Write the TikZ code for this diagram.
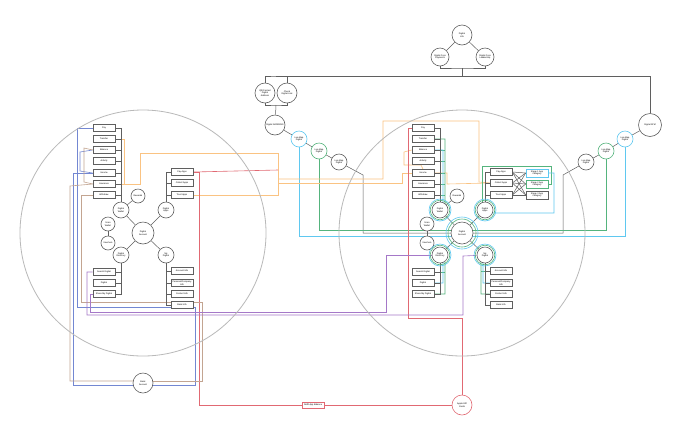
\documentclass[tikz,border=0pt]{standalone}
\usepackage{fontspec}
\setmainfont{Liberation Sans}
\usetikzlibrary{backgrounds}
\definecolor{cyn}{RGB}{95,200,240}
\definecolor{grn}{RGB}{85,180,125}
\definecolor{org}{RGB}{250,195,130}
\definecolor{rd}{RGB}{225,105,115}
\definecolor{bluev}{RGB}{115,135,210}
\definecolor{tanc}{RGB}{195,165,145}
\definecolor{prp}{RGB}{165,120,200}
\definecolor{ink}{RGB}{95,95,95}
\tikzset{
 tx/.style={font=\fontsize{2.2}{2.6}\selectfont, align=center},
 circ/.style={circle, draw=ink, line width=0.6pt, fill=white, inner sep=0pt, tx},
 csm/.style={circ, minimum size=14pt},
 cmd/.style={circ, minimum size=16pt},
 clg/.style={circ, minimum size=20pt},
 cxl/.style={circ, minimum size=22pt},
 bx/.style={rectangle, draw=ink, line width=0.6pt, fill=white, minimum width=22pt, minimum height=7pt, inner sep=0pt, tx},
 ln/.style={draw=ink, line width=0.5pt},
 cw/.style={line width=0.6pt}
}
\newcommand\mycluster[2]{%
\begin{scope}[xshift=#2pt]
\draw[gray!55, line width=0.8pt] (143,233) circle[radius=123pt];
\node[bx] (#1pay) at (104,128) {Pay};
\node[bx] (#1transfer) at (104,139) {Transfer};
\node[bx] (#1balance) at (104,150) {Balance};
\node[bx] (#1activity) at (104,161) {Activity};
\node[bx] (#1income) at (104,173) {Income};
\node[bx] (#1insurance) at (104,184) {Insurance};
\node[bx] (#1withdraw) at (104,195) {Withdraw};
\node[cmd] (#1wallet) at (121,210) {Digital\\Wallet};
\node[csm] (#1rew) at (138,196) {Rewards};
\node[csm] (#1scan) at (108,224) {Scan\\Wallet};
\node[csm] (#1vouch) at (108,243) {Vouchers};
\node[cxl] (#1acct) at (143,233) {Digital\\Account};
\node[cmd] (#1apps) at (166,210) {Digital\\Apps};
\node[cmd] (#1dir) at (121,255) {Digital\\Directory};
\node[cmd] (#1my) at (166,255) {My\\Digital};
\node[bx] (#1payapp) at (182,172) {Pay Apps};
\node[bx] (#1collapp) at (182,183) {Collect Apps};
\node[bx] (#1trustapp) at (182,195) {Trust Apps};
\node[bx] (#1search) at (104,272) {Search Digital};
\node[bx] (#1dig) at (104,283) {Digital};
\node[bx] (#1share) at (104,294) {Share My Digital};
\node[bx] (#1acc) at (182,271) {Account Info};
\node[bx] (#1per) at (182,283) {Personal/Company\\Info};
\node[bx] (#1con) at (182,294) {Contact Info};
\node[bx] (#1bank) at (182,305) {Bank Info};
\foreach \s in {wallet,apps,dir,my} {\draw[ln] (#1acct) -- (#1\s);}
\draw[ln] (#1wallet) -- (#1rew);
\draw[ln] (#1scan) -- (#1vouch);
\draw[ln] (#1pay.east) -| (#1wallet.north);
\foreach \b in {transfer,balance,activity,income,insurance,withdraw} {\draw[ln] (#1\b.east) -- (#1\b.east -| #1wallet.north);}
\draw[ln] (#1payapp.west) -| (#1apps.north);
\foreach \b in {collapp,trustapp} {\draw[ln] (#1\b.west) -- (#1\b.west -| #1apps.north);}
\draw[ln] (#1share.east) -| (#1dir.south);
\foreach \b in {search,dig} {\draw[ln] (#1\b.east) -- (#1\b.east -| #1dir.south);}
\draw[ln] (#1bank.west) -| (#1my.south);
\foreach \b in {acc,per,con} {\draw[ln] (#1\b.west) -- (#1\b.west -| #1my.south);}
\end{scope}}
\begin{document}
\begin{tikzpicture}[x=1pt,y=-1pt]
\useasboundingbox (0,0) rectangle (680,440);
\begin{scope}[on background layer]
\fill[white] (0,0) rectangle (680,440);
\end{scope}
\mycluster{L}{0}
\mycluster{R}{319}
% category boxes
\node[bx, draw=cyn, minimum height=8pt] (cat1) at (537,173) {Stage 1 App\\Category};
\node[bx, draw=grn, minimum height=8pt] (cat2) at (537,184) {Stage 2 App\\Category};
\node[bx, minimum height=8pt] (cat3) at (537,195) {Stage 3 App\\Category};
\foreach \a in {payapp,collapp,trustapp} {\foreach \c in {cat1,cat2,cat3} {\draw[ln] (R\a.east) -- (\c.west);}}
% top
\node[clg] (life) at (462,35) {Digital\\Life};
\node[circ, minimum size=18pt] (core1) at (440,57) {Digital Core\\Payments};
\node[circ, minimum size=18pt] (core2) at (485,57) {Digital Core\\Leadership};
\draw[ln] (life) -- (core1);
\draw[ln] (life) -- (core2);
\draw[ln] (core1.south) |- (462,68) -| (core2.south);
\coordinate (tl) at (276,76);
\coordinate (tr) at (650,76);
\draw[ln] (462,68) -- (462,76);
\draw[ln] (tl) -- (tr);
\node[clg] (qr) at (265,93) {QR/Contact\\Digital\\Address};
\node[clg] (chk) at (287,93) {Check\\Digital Link};
\draw[ln] (qr.north) |- (tl) -| (chk.north);
\node[clg] (addr) at (275,125) {Digital ADDRESS};
\draw[ln] (qr.south) |- (276,105) -| (chk.south);
\draw[ln] (276,105) -- (addr);
\node[cmd, draw=cyn] (lm1) at (299,139) {Live Map\\Digital};
\node[cmd, draw=grn] (lm2) at (319,151) {Live Map\\Digital};
\node[cmd] (lm3) at (339,162) {Live Map\\Digital};
\node[circ, minimum size=23pt] (atm) at (650,125) {Digital ATM};
\node[cmd, draw=cyn] (lm4) at (625,139) {Live Map\\Digital};
\node[cmd, draw=grn] (lm5) at (606,151) {Live Map\\Digital};
\node[cmd] (lm6) at (586,162) {Live Map\\Digital};
\draw[ln] (addr) -- (lm1);
\draw[ln] (lm1) -- (lm2);
\draw[ln] (lm2) -- (lm3);
\draw[ln] (tr) -- (atm);
\draw[ln] (atm) -- (lm4);
\draw[ln] (lm4) -- (lm5);
\draw[ln] (lm5) -- (lm6);
% bottom nodes
\node[clg] (bank) at (143,383) {Bank\\Account};
\node[bx, draw=rd, minimum height=6pt] (refill) at (313,405) {Refill App Balance};
\node[clg, draw=rd] (gift) at (462,405) {Apple Gift\\Cards};
% rings on right cluster
\draw[cyn, cw] (Racct) circle[radius=16pt];
\draw[grn, cw] (Racct) circle[radius=14pt];
\foreach \s in {wallet,apps,dir,my} {\draw[cyn, cw] (R\s) circle[radius=11pt]; \draw[grn, cw] (R\s) circle[radius=9.8pt];}
\begin{scope}[on background layer]
% long black connectors
\draw[ln] (lm3) -- (363,175) -- (363,233) -- (563,233) -- (563,175) -- (lm6);
\draw[cyn, cw] (lm1) -- (299,236) -- (625,236) -- (lm4);
\draw[grn, cw] (lm2) -- (319,230) -- (606,230) -- (lm5);
% orange
\draw[org, cw] (Ltransfer.east) -- (124,139) -- (124,184) -- (Linsurance.east);
\draw[org, cw] (Linsurance.east) -- (140,184) -- (140,153) -- (278,153) -- (278,195) -- (Ltrustapp.east);
\coordinate (oj1) at (278,179);
\coordinate (oj2) at (278,183);
\draw[org, cw] (oj1) -- (383,179) -- (383,121) -- (479,121) -- (479,182) -- (Rcollapp.west);
\draw[org, cw] (oj2) -- (402,183) -- (402,173) -- (Rincome.west);
\draw[org, cw] (Rincome.east) -- (447,173) -- (447,184) -- (Rcollapp.west);
\draw[org, cw] (Rbalance.west) -- (404,152) -- (404,165) -- (421,165) -- (Rincome.north);
% red
\coordinate (rj) at (278,170);
\draw[rd, cw] (Lpayapp.east) -- (rj);
\draw[rd, cw] (Lpayapp.east) -- (199,172) -- (199,405) -- (refill);
\draw[rd, cw] (refill) -- (gift);
\draw[rd, cw] (gift) -- (462,318) -- (408,318) -- (408,128) -- (Rpay.west);
% blue-violet
\draw[bluev, cw] (Lpay.west) -- (77,128) -- (77,307) -- (195,307) -- (195,385) -- (bank |- 0,385);
\draw[bluev, cw] (Lincome.west) -- (73,173) -- (73,385) -- (bank |- 0,385);
\draw[bluev, cw] (Lbalance.west) -- (80,152) -- (80,171) -- (Lincome.west);
% tan
\draw[tanc, cw] (Lbalance.west) -- (84,148) -- (84,182) -- (Linsurance.west);
\draw[tanc, cw] (Linsurance.west) -- (70,186) -- (70,381) -- (bank |- 0,381);
\draw[tanc, cw] (Lwithdraw.west) -- (81,195) -- (81,302) -- (202,302) -- (202,381) -- (bank |- 0,381);
% purple
\draw[prp, cw] (Lsearch.west) -- (87,272) -- (87,315) -- (463,315) -- (463,256) -- (Rmy);
\draw[prp, cw] (Lshare.west) -- (90,294) -- (90,312) -- (386,312) -- (386,255) -- (Rdir);
% right cluster green/cyan parallels
\draw[grn, cw] (Rapps) -- (482,210) -- (482,166) -- (551,166) -- (551,184) -- (cat2.east);
\draw[cyn, cw] (cat1.east) -- (554,173) -- (554,213) -- (490,213) -- (Rapps);
\draw[grn, cw] (Rtransfer.east) -- (445,139) -- (445,205) -- (Rwallet);
\foreach \b in {balance,activity,income,insurance,withdraw} {\draw[grn, cw] (R\b.east) -- (R\b.east -| 445,0);}
\draw[cyn, cw] (Rbalance.east) -- (443,150) -- (443,205) -- (Rwallet);
\draw[grn, cw] (Rdir) -- (445,262) -- (445,294) -- (Rshare.east);
\draw[grn, cw] (Rsearch.east) -- (Rsearch.east -| 445,0);
\draw[cyn, cw] (Rdir) -- (443,262) -- (443,283) -- (Rdig.east);
\draw[grn, cw] (Rmy) -- (481,262) -- (481,294) -- (Rcon.west);
\draw[grn, cw] (Racc.west) -- (Racc.west -| 481,0);
\draw[cyn, cw] (Rmy) -- (483,262) -- (483,283) -- (Rper.west);
\end{scope}
\end{tikzpicture}
\end{document}
